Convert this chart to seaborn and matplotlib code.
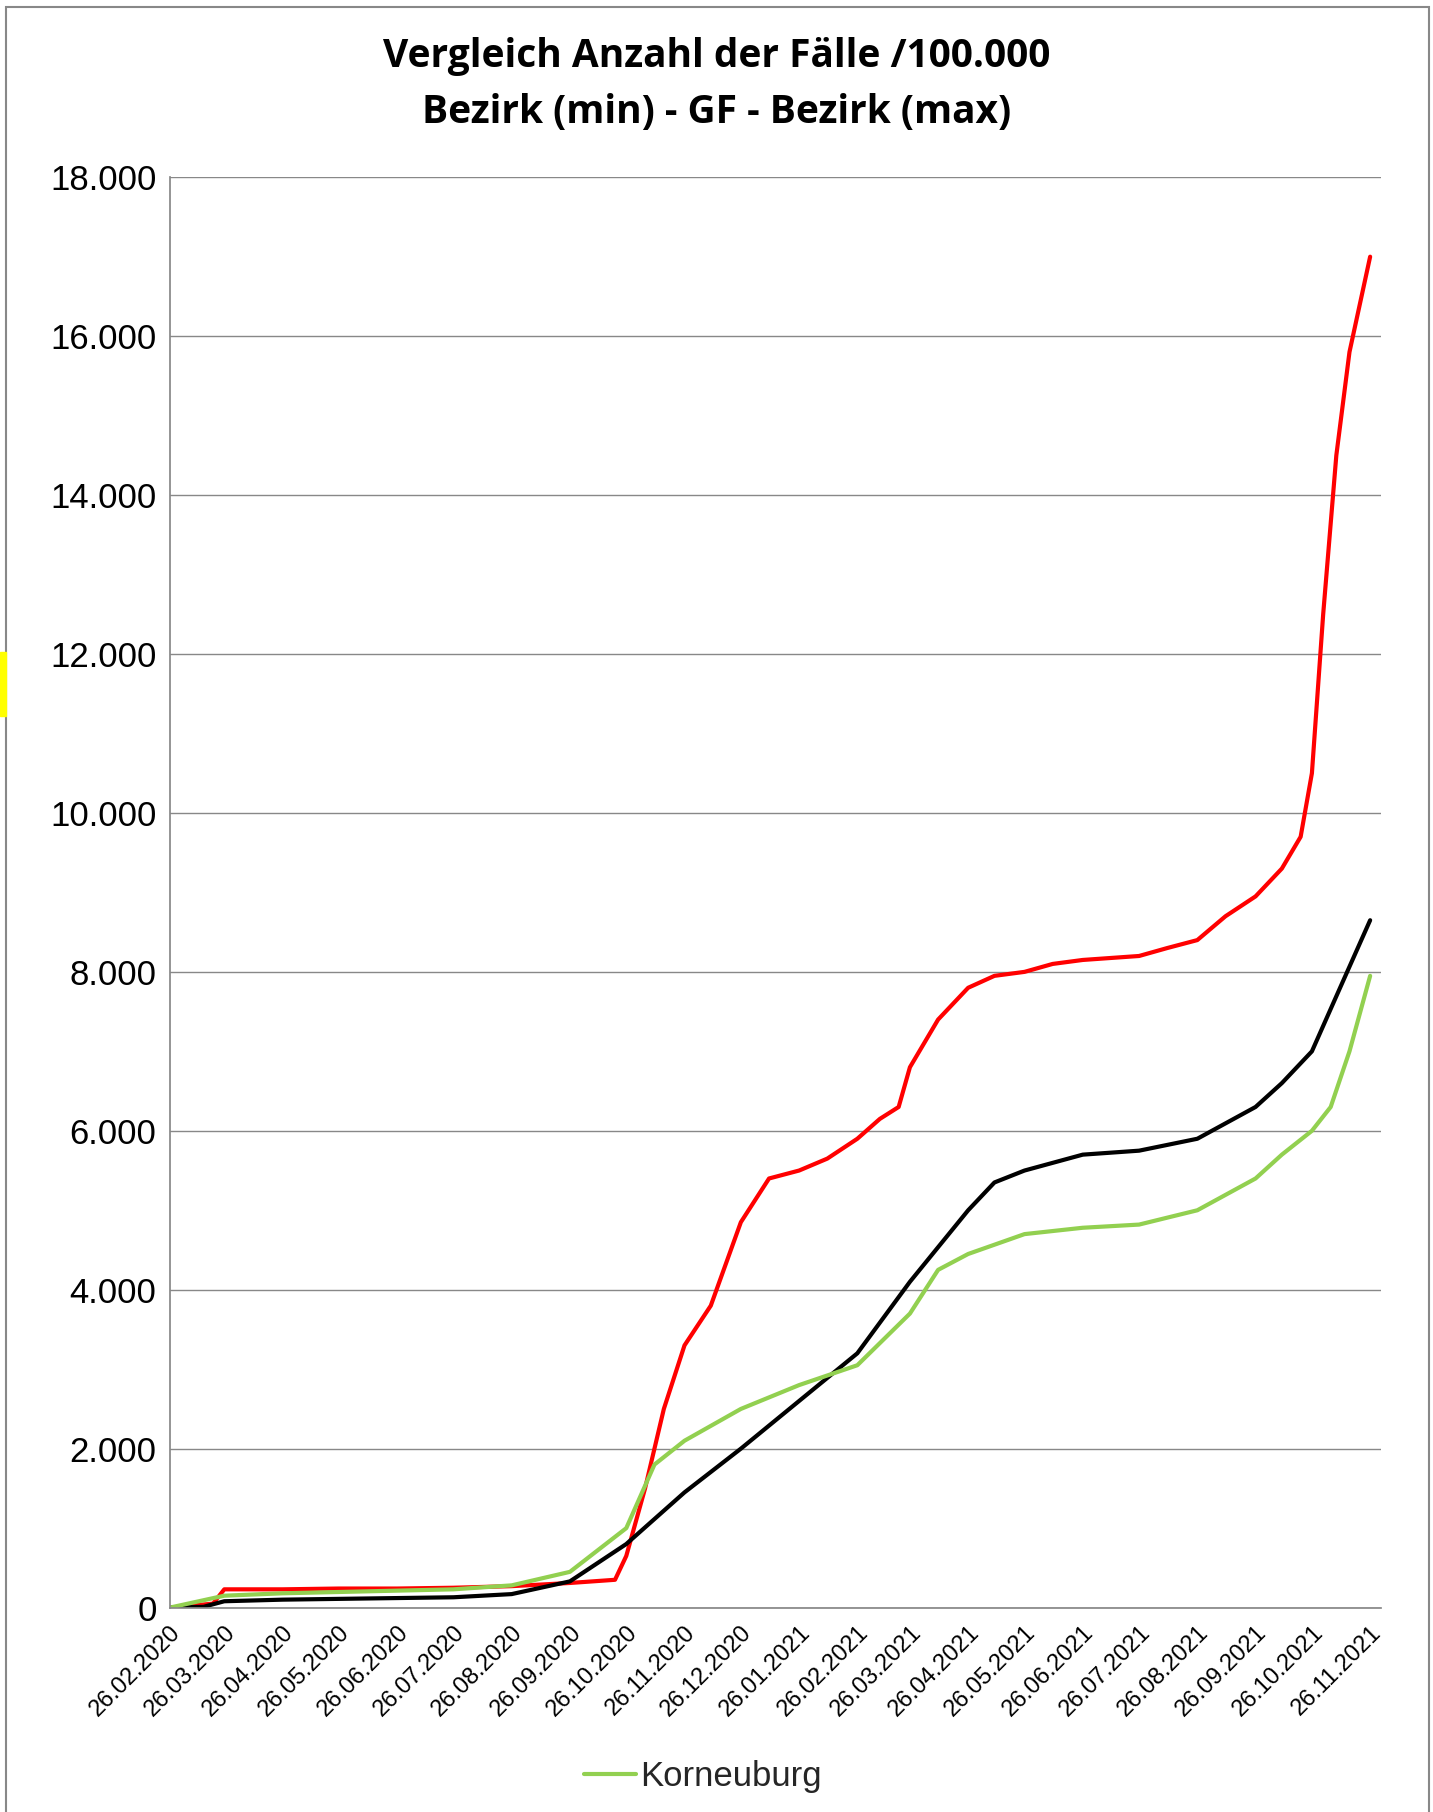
import pandas as pd
import numpy as np
import matplotlib
matplotlib.use("Agg")
import matplotlib.pyplot as plt
import matplotlib.dates as mdates
from matplotlib.ticker import FuncFormatter
from matplotlib.patches import Rectangle
import seaborn as sns

# ===== Daten =====
red_dates = ["2020-02-26", "2020-03-20", "2020-03-26", "2020-04-26", "2020-05-26", "2020-06-26",
             "2020-07-26", "2020-08-26", "2020-09-26", "2020-10-20", "2020-10-26", "2020-11-05",
             "2020-11-15", "2020-11-26", "2020-12-10", "2020-12-26", "2021-01-10", "2021-01-26",
             "2021-02-10", "2021-02-26", "2021-03-10", "2021-03-20", "2021-03-26", "2021-04-10",
             "2021-04-26", "2021-05-10", "2021-05-26", "2021-06-10", "2021-06-26", "2021-07-26",
             "2021-08-10", "2021-08-26", "2021-09-10", "2021-09-26", "2021-10-10", "2021-10-20",
             "2021-10-26", "2021-11-01", "2021-11-08", "2021-11-15", "2021-11-26"]
red_vals = [0, 50, 230, 230, 240, 240, 250, 270, 310, 350, 650, 1500,
            2500, 3300, 3800, 4850, 5400, 5500, 5650, 5900, 6150, 6300, 6800, 7400,
            7800, 7950, 8000, 8100, 8150, 8200, 8300, 8400, 8700, 8950, 9300, 9700,
            10500, 12500, 14500, 15800, 17000]

black_dates = ["2020-02-26", "2020-03-15", "2020-03-26", "2020-04-26", "2020-07-26", "2020-08-26",
               "2020-09-26", "2020-10-26", "2020-11-26", "2020-12-26", "2021-01-26", "2021-02-26",
               "2021-03-26", "2021-04-26", "2021-05-10", "2021-05-26", "2021-06-26", "2021-07-26",
               "2021-08-26", "2021-09-26", "2021-10-10", "2021-10-26", "2021-11-10", "2021-11-26"]
black_vals = [0, 10, 80, 100, 130, 170, 330, 800, 1450, 2000, 2600, 3200,
              4100, 5000, 5350, 5500, 5700, 5750, 5900, 6300, 6600, 7000, 7800, 8650]

green_dates = ["2020-02-26", "2020-03-26", "2020-04-26", "2020-07-26", "2020-08-26", "2020-09-26",
               "2020-10-26", "2020-11-10", "2020-11-26", "2020-12-26", "2021-01-26", "2021-02-26",
               "2021-03-26", "2021-04-10", "2021-04-26", "2021-05-26", "2021-06-26", "2021-07-26",
               "2021-08-26", "2021-09-26", "2021-10-10", "2021-10-26", "2021-11-05", "2021-11-15",
               "2021-11-26"]
green_vals = [0, 150, 180, 230, 280, 450, 1000, 1800, 2100, 2500, 2800, 3050,
              3700, 4250, 4450, 4700, 4780, 4820, 5000, 5400, 5700, 6000, 6300, 7000, 7950]

tick_dates = pd.date_range("2020-02-01", "2021-11-01", freq="MS") + pd.Timedelta(days=25)

sns.set_theme(style="white")
plt.rcParams['font.family'] = ['Liberation Sans', 'DejaVu Sans']

fig = plt.figure(figsize=(14.33, 18.12), dpi=100)
ax = fig.add_axes([0.1185, 0.1128, 0.8455, 0.7894])

sns.lineplot(x=pd.to_datetime(red_dates), y=red_vals, color="#ff0000", lw=3, ax=ax)
sns.lineplot(x=pd.to_datetime(black_dates), y=black_vals, color="black", lw=3, ax=ax)
sns.lineplot(x=pd.to_datetime(green_dates), y=green_vals, color="#92d050", lw=3, ax=ax,
             label="Korneuburg")

ax.set_ylim(0, 18000)
ax.set_yticks(range(0, 18001, 2000))
ax.yaxis.set_major_formatter(FuncFormatter(lambda v, p: f"{int(v):,}".replace(",", ".")))
ax.set_xlim(pd.Timestamp("2020-02-26"), pd.Timestamp("2021-12-02"))
ax.set_xticks(tick_dates)
ax.xaxis.set_major_formatter(mdates.DateFormatter("%d.%m.%Y"))
plt.setp(ax.get_xticklabels(), rotation=45, ha="right", rotation_mode="anchor", fontsize=17,
         color="black")
ax.tick_params(axis="y", labelsize=25, labelcolor="black")
ax.tick_params(axis="x", pad=4)
ax.grid(axis="y", color="#888888", lw=1)
for s in ["top", "right"]:
    ax.spines[s].set_visible(False)
ax.spines["left"].set_color("#888888")
ax.spines["bottom"].set_color("#888888")
ax.set_xlabel("")
ax.set_ylabel("")

ax.legend(loc="upper center", bbox_to_anchor=(0.44, -0.085), frameon=False, fontsize=25,
          handlelength=1.5, handletextpad=0.1)

fig.text(0.5, 0.969, "Vergleich Anzahl der Fälle /100.000", ha="center", va="center",
         fontsize=28, fontweight="bold", color="black", family=["Open Sans", "DejaVu Sans"])
fig.text(0.5, 0.938, "Bezirk (min) - GF - Bezirk (max)", ha="center", va="center",
         fontsize=28, fontweight="bold", color="black", family=["Open Sans", "DejaVu Sans"])

# Rahmen wie im Original
fig.patches.append(Rectangle((0.004, -0.01), 0.993, 1.006, transform=fig.transFigure,
                             fill=False, edgecolor="#888888", lw=1.5))
fig.patches.append(Rectangle((0.0, 0.605), 0.004, 0.035, transform=fig.transFigure,
                             color="#ffff00"))

fig.savefig("out.png", dpi=100)
